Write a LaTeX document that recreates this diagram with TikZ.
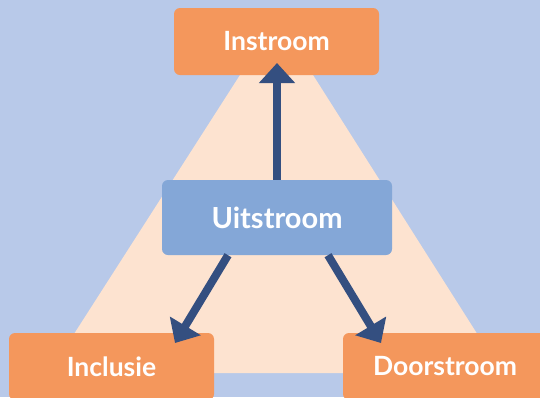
\documentclass[tikz,border=0pt]{standalone}
\usepackage{fontspec}
\setmainfont{Lato}
\usetikzlibrary{arrows.meta}
\definecolor{bgblue}{HTML}{B8C9E9}
\definecolor{peach}{HTML}{FDE3D0}
\definecolor{orangebox}{HTML}{F4975C}
\definecolor{midblue}{HTML}{84A7D7}
\definecolor{navy}{HTML}{344F80}
\tikzset{
  obox/.style={fill=orangebox, rounded corners=6pt, minimum height=67pt, text=white, font=\bfseries\fontsize{26.5}{30}\selectfont, inner sep=0pt},
  ubox/.style={fill=midblue, rounded corners=6pt, minimum width=230pt, minimum height=75pt, text=white, font=\bfseries\fontsize{29}{33}\selectfont, inner sep=0pt},
  arr/.style={draw=navy, line width=8pt, -{Triangle[length=20pt,width=35pt]}}
}
\begin{document}
\begin{tikzpicture}[x=1pt,y=-1pt]
\useasboundingbox (0,0) rectangle (540,397);
\clip (0,0) rectangle (540,397);
\fill[bgblue] (0,0) rectangle (540,397);
\fill[peach] (240,75) -- (313,75) -- (502,373) -- (49,373) -- cycle;
\node[obox, minimum width=205pt] (in) at (276.5,41.5) {Instroom};
\node[obox, minimum width=205pt] (incl) at (111.5,366.5) {Inclusie};
\node[obox, minimum width=204pt] (door) at (445,366.5) {Doorstroom};
\node[ubox] (uit) at (277,217.5) {Uitstroom};
\coordinate (tipU) at (277,63);
\coordinate (tipL) at (175,343);
\coordinate (tipR) at (381,343);
\draw[arr] (uit.north) -- (tipU);
\draw[arr] ([xshift=-49pt]uit.south) -- (tipL);
\draw[arr] ([xshift=51pt]uit.south) -- (tipR);
\end{tikzpicture}
\end{document}
